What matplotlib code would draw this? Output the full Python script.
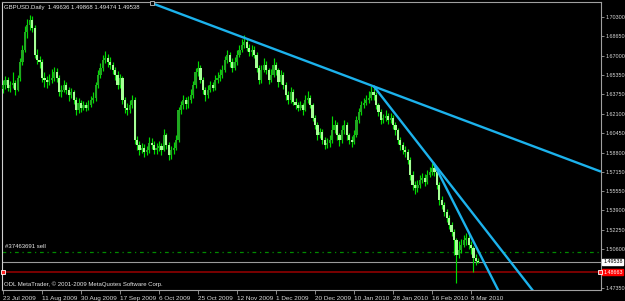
# GBPUSD daily chart, MetaTrader style

import matplotlib
matplotlib.use('Agg')
import matplotlib.pyplot as plt
import numpy as np

plt.rcParams['font.family'] = ['Liberation Sans', 'DejaVu Sans']

# DATA
date_labels = ['23 Jul 2009', '11 Aug 2009', '30 Aug 2009', '17 Sep 2009',
               '6 Oct 2009', '25 Oct 2009', '12 Nov 2009', '1 Dec 2009',
               '20 Dec 2009', '10 Jan 2010', '28 Jan 2010', '16 Feb 2010',
               '8 Mar 2010']
date_label_bars = [0, 16, 32, 48, 64, 80, 96, 112, 128, 144, 160, 176, 192]

price_ticks = [1.70300, 1.68650, 1.67000, 1.65350, 1.63750, 1.62100, 1.60450,
               1.58800, 1.57150, 1.55550, 1.53900, 1.52250, 1.50600, 1.47350]

opens = [
    1.6420, 1.6453, 1.6496, 1.6428, 1.6453, 1.6470, 1.6411, 1.6513, 1.6648, 1.6750, 1.6903, 1.6962,
    1.7005, 1.6937, 1.6708, 1.6665, 1.6648, 1.6513, 1.6496, 1.6479, 1.6496, 1.6513, 1.6564, 1.6513,
    1.6394, 1.6411, 1.6453, 1.6411, 1.6369, 1.6394, 1.6326, 1.6241, 1.6301, 1.6258, 1.6284, 1.6258,
    1.6284, 1.6326, 1.6343, 1.6453, 1.6538, 1.6598, 1.6665, 1.6682, 1.6648, 1.6623, 1.6581, 1.6538,
    1.6453, 1.6513, 1.6326, 1.6258, 1.6241, 1.6284, 1.6326, 1.5987, 1.5945, 1.5902, 1.5919, 1.5885,
    1.5902, 1.5962, 1.5945, 1.5902, 1.5919, 1.5936, 1.5902, 1.6029, 1.5945, 1.5860, 1.5902, 1.5919,
    1.5987, 1.6241, 1.6284, 1.6326, 1.6292, 1.6326, 1.6369, 1.6453, 1.6564, 1.6598, 1.6496, 1.6411,
    1.6369, 1.6411, 1.6453, 1.6428, 1.6496, 1.6513, 1.6538, 1.6581, 1.6665, 1.6708, 1.6648, 1.6598,
    1.6648, 1.6708, 1.6750, 1.6793, 1.6818, 1.6767, 1.6733, 1.6750, 1.6708, 1.6598, 1.6496, 1.6581,
    1.6623, 1.6581, 1.6496, 1.6538, 1.6623, 1.6581, 1.6479, 1.6538, 1.6453, 1.6369, 1.6326, 1.6394,
    1.6309, 1.6284, 1.6258, 1.6284, 1.6241, 1.6326, 1.6343, 1.6284, 1.6174, 1.6114, 1.6029, 1.6055,
    1.5987, 1.5945, 1.5962, 1.5987, 1.6072, 1.6114, 1.6029, 1.5987, 1.6072, 1.6114, 1.6029, 1.5987,
    1.5970, 1.6029, 1.6157, 1.6224, 1.6284, 1.6301, 1.6326, 1.6343, 1.6394, 1.6369, 1.6284, 1.6224,
    1.6157, 1.6174, 1.6191, 1.6157, 1.6174, 1.6114, 1.6072, 1.5987, 1.5945, 1.5902, 1.5885, 1.5817,
    1.5690, 1.5605, 1.5580, 1.5605, 1.5648, 1.5665, 1.5631, 1.5690, 1.5716, 1.5750, 1.5716, 1.5605,
    1.5478, 1.5436, 1.5376, 1.5326, 1.5266, 1.5207, 1.5139, 1.5012, 1.5054, 1.5097, 1.5139, 1.5156,
    1.5097, 1.5071, 1.4986, 1.49636]

closes = [
    1.6453, 1.6496, 1.6428, 1.6453, 1.6470, 1.6411, 1.6513, 1.6648, 1.6750, 1.6903, 1.6962, 1.7005,
    1.6937, 1.6708, 1.6665, 1.6648, 1.6513, 1.6496, 1.6479, 1.6496, 1.6513, 1.6564, 1.6513, 1.6394,
    1.6411, 1.6453, 1.6411, 1.6369, 1.6394, 1.6326, 1.6241, 1.6301, 1.6258, 1.6284, 1.6258, 1.6284,
    1.6326, 1.6343, 1.6453, 1.6538, 1.6598, 1.6665, 1.6682, 1.6648, 1.6623, 1.6581, 1.6538, 1.6453,
    1.6513, 1.6326, 1.6258, 1.6241, 1.6284, 1.6326, 1.5987, 1.5945, 1.5902, 1.5919, 1.5885, 1.5902,
    1.5962, 1.5945, 1.5902, 1.5919, 1.5936, 1.5902, 1.6029, 1.5945, 1.5860, 1.5902, 1.5919, 1.5987,
    1.6241, 1.6284, 1.6326, 1.6292, 1.6326, 1.6369, 1.6453, 1.6564, 1.6598, 1.6496, 1.6411, 1.6369,
    1.6411, 1.6453, 1.6428, 1.6496, 1.6513, 1.6538, 1.6581, 1.6665, 1.6708, 1.6648, 1.6598, 1.6648,
    1.6708, 1.6750, 1.6793, 1.6818, 1.6767, 1.6733, 1.6750, 1.6708, 1.6598, 1.6496, 1.6581, 1.6623,
    1.6581, 1.6496, 1.6538, 1.6623, 1.6581, 1.6479, 1.6538, 1.6453, 1.6369, 1.6326, 1.6394, 1.6309,
    1.6284, 1.6258, 1.6284, 1.6241, 1.6326, 1.6343, 1.6284, 1.6174, 1.6114, 1.6029, 1.6055, 1.5987,
    1.5945, 1.5962, 1.5987, 1.6072, 1.6114, 1.6029, 1.5987, 1.6072, 1.6114, 1.6029, 1.5987, 1.5970,
    1.6029, 1.6157, 1.6224, 1.6284, 1.6301, 1.6326, 1.6343, 1.6394, 1.6369, 1.6284, 1.6224, 1.6157,
    1.6174, 1.6191, 1.6157, 1.6174, 1.6114, 1.6072, 1.5987, 1.5945, 1.5902, 1.5885, 1.5817, 1.5690,
    1.5605, 1.5580, 1.5605, 1.5648, 1.5665, 1.5631, 1.5690, 1.5716, 1.5750, 1.5716, 1.5605, 1.5478,
    1.5436, 1.5376, 1.5326, 1.5266, 1.5207, 1.5139, 1.5012, 1.5054, 1.5097, 1.5139, 1.5156, 1.5097,
    1.5071, 1.4986, 1.4964, 1.49538]

highs = [
    1.6500, 1.6530, 1.6525, 1.6490, 1.6560, 1.6495, 1.6540, 1.6680, 1.6790, 1.6950, 1.7010, 1.7045,
    1.7040, 1.6960, 1.6760, 1.6700, 1.6670, 1.6560, 1.6530, 1.6550, 1.6590, 1.6610, 1.6600, 1.6540,
    1.6450, 1.6500, 1.6480, 1.6440, 1.6430, 1.6410, 1.6350, 1.6340, 1.6330, 1.6320, 1.6310, 1.6330,
    1.6360, 1.6390, 1.6480, 1.6580, 1.6640, 1.6710, 1.6745, 1.6720, 1.6690, 1.6650, 1.6610, 1.6570,
    1.6550, 1.6530, 1.6350, 1.6300, 1.6330, 1.6370, 1.6350, 1.6020, 1.5980, 1.5960, 1.5950, 1.5940,
    1.6010, 1.6000, 1.5980, 1.5960, 1.5980, 1.5960, 1.6080, 1.6050, 1.5970, 1.5940, 1.5970, 1.6030,
    1.6270, 1.6320, 1.6370, 1.6350, 1.6360, 1.6420, 1.6490, 1.6600, 1.6660, 1.6620, 1.6520, 1.6440,
    1.6450, 1.6490, 1.6480, 1.6540, 1.6560, 1.6590, 1.6620, 1.6700, 1.6750, 1.6730, 1.6680, 1.6690,
    1.6750, 1.6790, 1.6840, 1.6875, 1.6850, 1.6800, 1.6790, 1.6780, 1.6730, 1.6620, 1.6620, 1.6680,
    1.6660, 1.6600, 1.6590, 1.6680, 1.6650, 1.6600, 1.6580, 1.6560, 1.6480, 1.6400, 1.6440, 1.6420,
    1.6340, 1.6310, 1.6320, 1.6300, 1.6370, 1.6400, 1.6370, 1.6300, 1.6200, 1.6140, 1.6090, 1.6080,
    1.6010, 1.6000, 1.6030, 1.6190, 1.6160, 1.6140, 1.6050, 1.6110, 1.6160, 1.6140, 1.6050, 1.6020,
    1.6070, 1.6190, 1.6260, 1.6320, 1.6340, 1.6370, 1.6400, 1.6445, 1.6430, 1.6390, 1.6300, 1.6250,
    1.6210, 1.6240, 1.6220, 1.6220, 1.6200, 1.6140, 1.6090, 1.6010, 1.5970, 1.5940, 1.5910, 1.5840,
    1.5720, 1.5640, 1.5650, 1.5690, 1.5710, 1.5700, 1.5730, 1.5760, 1.5792, 1.5780, 1.5740, 1.5630,
    1.5510, 1.5460, 1.5400, 1.5350, 1.5290, 1.5230, 1.5160, 1.5130, 1.5150, 1.5180, 1.5200, 1.5190,
    1.5130, 1.5090, 1.5020, 1.49868]

lows = [
    1.6385, 1.6420, 1.6400, 1.6395, 1.6430, 1.6370, 1.6400, 1.6490, 1.6620, 1.6730, 1.6850, 1.6920,
    1.6900, 1.6680, 1.6630, 1.6600, 1.6480, 1.6440, 1.6430, 1.6450, 1.6470, 1.6490, 1.6480, 1.6360,
    1.6350, 1.6390, 1.6380, 1.6320, 1.6340, 1.6290, 1.6200, 1.6220, 1.6225, 1.6240, 1.6230, 1.6245,
    1.6270, 1.6300, 1.6320, 1.6430, 1.6510, 1.6570, 1.6640, 1.6610, 1.6590, 1.6550, 1.6500, 1.6420,
    1.6430, 1.6290, 1.6220, 1.6200, 1.6220, 1.6260, 1.5950, 1.5900, 1.5860, 1.5880, 1.5840, 1.5860,
    1.5880, 1.5910, 1.5870, 1.5870, 1.5890, 1.5860, 1.5890, 1.5910, 1.5820, 1.5830, 1.5870, 1.5900,
    1.5970, 1.6210, 1.6250, 1.6250, 1.6260, 1.6300, 1.6340, 1.6430, 1.6530, 1.6470, 1.6380, 1.6320,
    1.6340, 1.6390, 1.6400, 1.6410, 1.6470, 1.6490, 1.6510, 1.6560, 1.6640, 1.6610, 1.6560, 1.6580,
    1.6620, 1.6690, 1.6730, 1.6770, 1.6740, 1.6700, 1.6700, 1.6680, 1.6560, 1.6460, 1.6470, 1.6560,
    1.6550, 1.6460, 1.6480, 1.6520, 1.6540, 1.6440, 1.6460, 1.6420, 1.6330, 1.6290, 1.6300, 1.6280,
    1.6250, 1.6230, 1.6240, 1.6200, 1.6230, 1.6300, 1.6260, 1.6150, 1.6080, 1.5990, 1.6000, 1.5950,
    1.5910, 1.5920, 1.5930, 1.5960, 1.6050, 1.5990, 1.5940, 1.5960, 1.6040, 1.5990, 1.5950, 1.5930,
    1.5950, 1.6010, 1.6130, 1.6200, 1.6260, 1.6280, 1.6300, 1.6330, 1.6330, 1.6250, 1.6190, 1.6120,
    1.6130, 1.6150, 1.6120, 1.6130, 1.6080, 1.6030, 1.5950, 1.5900, 1.5870, 1.5840, 1.5780, 1.5650,
    1.5560, 1.5530, 1.5550, 1.5580, 1.5620, 1.5600, 1.5610, 1.5670, 1.5690, 1.5680, 1.5570, 1.5440,
    1.5400, 1.5340, 1.5290, 1.5230, 1.5170, 1.5010, 1.4774, 1.4990, 1.5030, 1.5080, 1.5100, 1.5060,
    1.5020, 1.4868, 1.4930, 1.49474]

# trend lines: two anchor points each (bar index, price), drawn as rays to the right
trend_lines = [
    ((61, 1.7148), (151, 1.6450)),
    ((152, 1.6445), (176.6, 1.5792)),
    ((176.6, 1.5792), (186, 1.5410)),
]

sell_price = 1.5037
bid_price = 1.49538
ask_line_price = 1.48663


def draw_chart():
    '''
    MetaTrader like candle chart on black
    '''
    n = len(closes)
    assert len(opens) == n and len(highs) == n and len(lows) == n
    o = np.array(opens)
    c = np.array(closes)
    h = np.array(highs)
    l = np.array(lows)
    idx = np.arange(n)

    fig = plt.figure(figsize=(6.25, 3.01), dpi=100, facecolor='black')
    ax = fig.add_axes([2 / 625, 11 / 301, 599 / 625, 288 / 301])
    ax.set_facecolor('black')

    # wicks
    ax.vlines(idx, l, h, colors='#00dc00', linewidth=0.85, zorder=2)
    # bodies: bull darker, bear light
    bull = c >= o
    body_lo = np.minimum(o, c)
    body_h = np.maximum(np.abs(c - o), 0.0004)
    ax.bar(idx[bull], body_h[bull], bottom=body_lo[bull], width=0.9,
           color='#1fa81f', linewidth=0, zorder=3)
    ax.bar(idx[~bull], body_h[~bull], bottom=body_lo[~bull], width=0.9,
           color='#a6ff96', linewidth=0, zorder=3)

    xmax = 245.3
    for (x1, y1), (x2, y2) in trend_lines:
        slope = (y2 - y1) / (x2 - x1)
        ax.plot([x1, xmax], [y1, y1 + slope * (xmax - x1)],
                color='#1cb2ec', linewidth=1.7, zorder=4,
                solid_capstyle='butt')
    ax.plot([trend_lines[0][0][0]], [trend_lines[0][0][1]], marker='s',
            markersize=2.5, markerfacecolor='black',
            markeredgecolor='#c0c0c0', markeredgewidth=0.6, zorder=5,
            clip_on=False)

    # order / price lines
    ax.axhline(sell_price, color='#008a00', linewidth=0.9,
               linestyle=(0, (3, 3, 1, 3)), zorder=1)
    ax.axhline(bid_price, color='#9a9a9a', linewidth=0.8, zorder=1)
    ax.axhline(ask_line_price, color='#7a0000', linewidth=1.4, zorder=1)
    for xm in [0.2, xmax - 0.4]:
        ax.plot([xm], [ask_line_price], marker='s', markersize=2.6,
                markerfacecolor='#ff2020', markeredgecolor='white',
                markeredgewidth=0.6, zorder=5, clip_on=False)

    ax.set_xlim(-0.4, xmax)
    ax.set_ylim(1.4715, 1.71572)

    # axes look
    for side in ['left', 'right', 'top', 'bottom']:
        ax.spines[side].set_color('#a0a0a0')
        ax.spines[side].set_linewidth(0.8)
    ax.spines['left'].set_color('#d0d0d0')

    ax.yaxis.tick_right()
    ax.set_yticks(price_ticks)
    ax.set_yticklabels(['%.5f' % p for p in price_ticks])
    ax.tick_params(axis='y', colors='#a0a0a0', labelcolor='#d8d8d8',
                   labelsize=3.9, length=2.2, width=0.6, pad=1.0,
                   direction='out')

    ax.set_xticks(date_label_bars)
    ax.set_xticklabels(date_labels, ha='left')
    ax.tick_params(axis='x', colors='#a0a0a0', labelcolor='#d8d8d8',
                   labelsize=4.6, length=3, width=0.6, pad=1,
                   direction='out')

    # price boxes on the right scale
    ax.annotate('%.5f' % bid_price, xy=(1.0035, bid_price),
                xycoords=('axes fraction', 'data'), ha='left', va='center',
                fontsize=3.9, color='black', annotation_clip=False,
                bbox=dict(boxstyle='square,pad=0.15', fc='white', ec='white'))
    ax.annotate('%.5f' % ask_line_price, xy=(1.0035, ask_line_price),
                xycoords=('axes fraction', 'data'), ha='left', va='center',
                fontsize=3.9, color='white', annotation_clip=False,
                bbox=dict(boxstyle='square,pad=0.15', fc='#ff0000',
                          ec='#ff0000'))

    # texts
    fig.text(4 / 625, 1 - 7 / 301,
             'GBPUSD.Daily  1.49636 1.49868 1.49474 1.49538',
             color='#e8e8e8', fontsize=4.3, va='center', ha='left')
    fig.text(5 / 625, 1 - 247 / 301, '#37463691 sell', color='#e8e8e8',
             fontsize=4.3, va='center', ha='left')
    fig.text(4 / 625, 1 - 284 / 301,
             'ODL MetaTrader, \u00a9 2001-2009 MetaQuotes Software Corp.',
             color='#e8e8e8', fontsize=4.3, va='center', ha='left')

    fig.savefig('out.png', dpi=100, facecolor='black')
    plt.close(fig)
    return


if __name__ == "__main__":
    draw_chart()
